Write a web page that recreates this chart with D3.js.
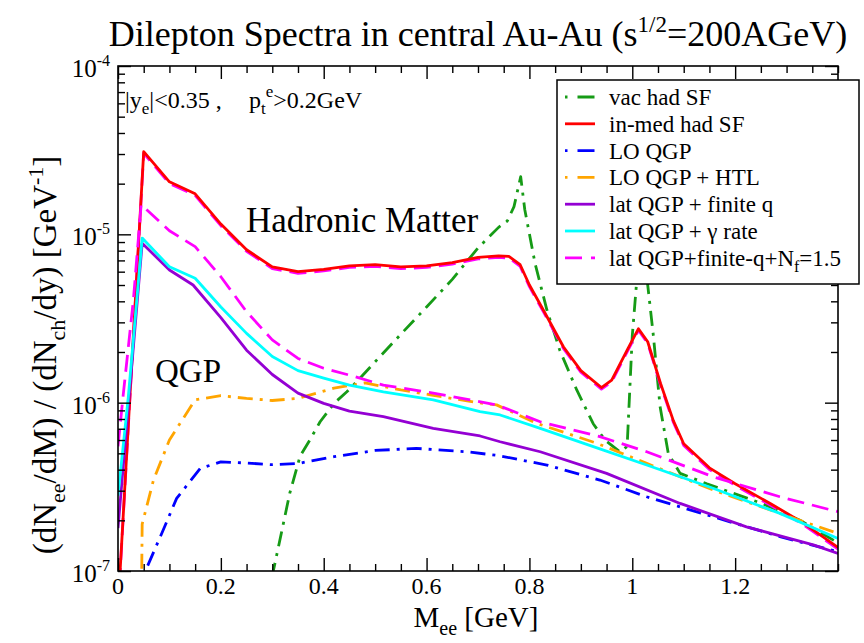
<!DOCTYPE html>
<html>
<head>
<meta charset="utf-8">
<script src="https://cdn.jsdelivr.net/npm/d3@7"></script>
<style>
  body { margin: 0; background: #fff; }
  svg { display: block; font-family: "Liberation Serif", "Times New Roman", serif; }
</style>
</head>
<body>
<svg id="chart" width="864" height="643"></svg>
<script>
// ---------------- data: dilepton invariant-mass spectra ----------------
// vacuum hadronic spectral functions
const massVac = [0.295, 0.302, 0.318, 0.334, 0.354, 0.373, 0.393, 0.42, 0.445, 0.467, 0.5, 0.55, 0.6, 0.65, 0.7, 0.74, 0.757, 0.77, 0.783,
  0.791, 0.811, 0.834, 0.859, 0.892, 0.924, 0.947, 0.976, 0.99, 1.0, 1.008, 1.019, 1.03, 1.041, 1.054, 1.07, 1.093, 1.145, 1.196, 1.255, 1.326, 1.4];
const vacHadSF = [8e-8, 1e-7, 1.7e-7, 2.9e-7, 4.8e-7, 6.0e-7, 7.7e-7, 9.9e-7, 1.16e-6, 1.36e-6, 1.75e-6, 2.55e-6, 3.7e-6, 5.4e-6, 8.3e-6, 1.1e-5, 1.2e-5, 1.46e-5, 2.2e-5,
  1.4e-5, 6.7e-6, 3.55e-6, 2.05e-6, 1.19e-6, 7.5e-7, 6.0e-7, 5.1e-7, 5.5e-7, 2.5e-6, 5e-6, 2.0e-5, 5e-6, 2.5e-6, 9.5e-7, 5.0e-7, 3.8e-7, 3.3e-7, 2.9e-7, 2.5e-7, 2.0e-7, 1.47e-7];

// in-medium hadronic spectral functions
const massMed = [0, 0.05, 0.1, 0.15, 0.2, 0.25, 0.3, 0.35, 0.4, 0.45, 0.5, 0.55, 0.6, 0.65, 0.7, 0.74, 0.76, 0.782, 0.8, 0.827, 0.866,
  0.9, 0.94, 0.96, 0.99, 1.012, 1.03, 1.055, 1.08, 1.1, 1.15, 1.2, 1.27, 1.33, 1.4];
const medHadSF = [6e-8, 3.1e-5, 2.05e-5, 1.74e-5, 1.15e-5, 8.1e-6, 6.4e-6, 6.0e-6, 6.2e-6, 6.5e-6, 6.6e-6, 6.4e-6, 6.5e-6, 6.8e-6, 7.3e-6, 7.45e-6, 7.4e-6, 6.6e-6, 5.0e-6, 3.55e-6, 2.15e-6,
  1.55e-6, 1.23e-6, 1.36e-6, 2.05e-6, 2.75e-6, 2.3e-6, 1.3e-6, 7.8e-7, 5.7e-7, 4.1e-7, 3.3e-7, 2.5e-7, 1.95e-7, 1.38e-7];

// leading-order QGP rate
const massLO = [0.05, 0.085, 0.114, 0.16, 0.2, 0.25, 0.3, 0.35, 0.42, 0.5, 0.58, 0.68, 0.74, 0.834, 0.937, 1.028, 1.157, 1.287, 1.4];
const loQGP = [9.5e-8, 1.67e-7, 2.7e-7, 4.07e-7, 4.45e-7, 4.38e-7, 4.28e-7, 4.35e-7, 4.78e-7, 5.2e-7, 5.35e-7, 5.1e-7, 4.85e-7, 4.26e-7, 3.47e-7, 2.76e-7, 2.1e-7, 1.6e-7, 1.3e-7];

// leading-order QGP with HTL resummation
const massHTL = [0.046, 0.047, 0.069, 0.1, 0.15, 0.2, 0.25, 0.3, 0.35, 0.42, 0.48, 0.55, 0.61, 0.7, 0.736, 0.814, 0.931, 1.028, 1.157, 1.287, 1.4];
const loQGPHTL = [9e-8, 1.9e-7, 3.47e-7, 6.0e-7, 1.04e-6, 1.1e-6, 1.06e-6, 1.03e-6, 1.06e-6, 1.22e-6, 1.31e-6, 1.19e-6, 1.11e-6, 1.0e-6, 9.7e-7, 7.54e-7, 5.74e-7, 4.36e-7, 3.03e-7, 2.2e-7, 1.67e-7];

// lattice QGP at finite momentum
const massLatQ = [0, 0.047, 0.1, 0.146, 0.2, 0.25, 0.3, 0.35, 0.4, 0.45, 0.516, 0.613, 0.704, 0.743, 0.821, 0.95, 1.093, 1.222, 1.352, 1.4];
const latQGPq = [1.8e-7, 8.85e-6, 6.14e-6, 5.0e-6, 3.2e-6, 2.05e-6, 1.47e-6, 1.14e-6, 9.9e-7, 8.9e-7, 8.26e-7, 7.04e-7, 6.34e-7, 5.86e-7, 5.11e-7, 3.8e-7, 2.52e-7, 1.83e-7, 1.43e-7, 1.27e-7];

// lattice QGP constrained by the photon rate
const massLatG = [0, 0.02, 0.047, 0.1, 0.15, 0.2, 0.25, 0.3, 0.35, 0.4, 0.45, 0.516, 0.613, 0.704, 0.743, 0.821, 0.944, 1.028, 1.157, 1.287, 1.4];
const latQGPgamma = [2.8e-7, 1.08e-6, 9.5e-6, 6.42e-6, 5.48e-6, 3.7e-6, 2.58e-6, 1.88e-6, 1.55e-6, 1.4e-6, 1.27e-6, 1.16e-6, 1.04e-6, 8.84e-7, 8.45e-7, 7.04e-7, 5.23e-7, 4.26e-7, 3.1e-7, 2.2e-7, 1.56e-7];

// lattice QGP, finite momentum, N_f = 1.5
const massLatNf = [0, 0.01, 0.03, 0.045, 0.1, 0.15, 0.2, 0.25, 0.3, 0.35, 0.4, 0.46, 0.516, 0.613, 0.736, 0.821, 0.937, 1.028, 1.157, 1.287, 1.4];
const latQGPNf = [5.5e-7, 1.1e-6, 4.1e-6, 1.5e-5, 1.05e-5, 8.45e-6, 5.6e-6, 3.47e-6, 2.36e-6, 1.83e-6, 1.6e-6, 1.43e-6, 1.27e-6, 1.14e-6, 9.7e-7, 7.7e-7, 6.28e-7, 5.11e-7, 3.63e-7, 2.76e-7, 2.25e-7];

// axis ticks
const xMajorTicks = [0, 0.2, 0.4, 0.6, 0.8, 1.0, 1.2];
const xTickLabels = ["0", "0.2", "0.4", "0.6", "0.8", "1", "1.2"];
const yMajorTicks = [1e-7, 1e-6, 1e-5, 1e-4];
const yTickExponents = ["-7", "-6", "-5", "-4"];

const legendLabels = ["vac had SF", "in-med had SF", "LO QGP", "LO QGP + HTL",
  "lat QGP + finite q", "lat QGP + \u03b3 rate", "lat QGP+finite-q+N_f=1.5"];

// ---------------- layout ----------------
const svg = d3.select("#chart");
const W = 864, H = 643;
const plot = { left: 118, right: 838, top: 66, bottom: 571 };

svg.append("rect").attr("width", W).attr("height", H).attr("fill", "#fff");

const x = d3.scaleLinear().domain([0, 1.4]).range([plot.left, plot.right]);
const y = d3.scaleLog().domain([1e-7, 1e-4]).range([plot.bottom, plot.top]);

svg.append("defs").append("clipPath").attr("id", "plotClip")
  .append("rect")
  .attr("x", plot.left).attr("y", plot.top)
  .attr("width", plot.right - plot.left).attr("height", plot.bottom - plot.top);

// ---------------- curves ----------------
const GREEN = "#169b16", RED = "#ff0000", BLUE = "#0000ff", ORANGE = "#ffa500",
      VIOLET = "#9400d3", CYAN = "#00ffff", MAGENTA = "#ff00ff";
const DASHDOT = "3,7,15,7";
const DASHED = "17,8";

const zip = (ms, vs) => ms.map((m, i) => [m, vs[i]]);
const line = d3.line().x(d => x(d[0])).y(d => y(d[1]));

const series = [
  { key: "vac", data: zip(massVac, vacHadSF), color: GREEN, dash: DASHDOT },
  { key: "medNf", data: zip(massMed, medHadSF), color: MAGENTA, dash: DASHED, shift: 1.6 },
  { key: "med", data: zip(massMed, medHadSF), color: RED, dash: null },
  { key: "lo", data: zip(massLO, loQGP), color: BLUE, dash: DASHDOT },
  { key: "htl", data: zip(massHTL, loQGPHTL), color: ORANGE, dash: DASHDOT },
  { key: "latq", data: zip(massLatQ, latQGPq), color: VIOLET, dash: null },
  { key: "latg", data: zip(massLatG, latQGPgamma), color: CYAN, dash: null },
  { key: "latnf", data: zip(massLatNf, latQGPNf), color: MAGENTA, dash: DASHED }
];

const curves = svg.append("g").attr("clip-path", "url(#plotClip)");
series.forEach(s => {
  curves.append("path")
    .datum(s.data)
    .attr("d", line)
    .attr("fill", "none")
    .attr("stroke", s.color)
    .attr("stroke-width", 2.8)
    .attr("stroke-linejoin", "round")
    .attr("stroke-dasharray", s.dash)
    .attr("transform", s.shift ? `translate(0,${s.shift})` : null);
});

// ---------------- axes (inward ticks on all four sides) ----------------
const xMinorTicks = d3.range(0, 1.4001, 0.05).map(v => +v.toFixed(2)).filter(v => !xMajorTicks.includes(v));
const yMinorTicks = [];
[1e-7, 1e-6, 1e-5].forEach(dec => { for (let k = 2; k <= 9; k++) yMinorTicks.push(dec * k); });

const MAJ = 13, MIN = 7;
function drawAxis(axisFn, scale, ticks, size, transform) {
  const g = svg.append("g").attr("transform", transform)
    .call(axisFn(scale).tickValues(ticks).tickSize(size).tickSizeOuter(0).tickFormat(""));
  g.select(".domain").remove();
  g.selectAll(".tick line").attr("stroke", "#000").attr("stroke-width", 1.4);
  return g;
}
drawAxis(d3.axisBottom, x, xMajorTicks, -MAJ, `translate(0,${plot.bottom})`);
drawAxis(d3.axisBottom, x, xMinorTicks, -MIN, `translate(0,${plot.bottom})`);
drawAxis(d3.axisTop, x, xMajorTicks, -MAJ, `translate(0,${plot.top})`);
drawAxis(d3.axisTop, x, xMinorTicks, -MIN, `translate(0,${plot.top})`);
drawAxis(d3.axisLeft, y, yMajorTicks, -MAJ, `translate(${plot.left},0)`);
drawAxis(d3.axisLeft, y, yMinorTicks, -MIN, `translate(${plot.left},0)`);
drawAxis(d3.axisRight, y, yMajorTicks, -MAJ, `translate(${plot.right},0)`);
drawAxis(d3.axisRight, y, yMinorTicks, -MIN, `translate(${plot.right},0)`);

svg.append("rect")
  .attr("x", plot.left).attr("y", plot.top)
  .attr("width", plot.right - plot.left).attr("height", plot.bottom - plot.top)
  .attr("fill", "none").attr("stroke", "#000").attr("stroke-width", 1.6);

// x tick labels
svg.append("g").selectAll("text").data(xMajorTicks).join("text")
  .attr("x", d => x(d)).attr("y", plot.bottom + 23)
  .attr("text-anchor", "middle").attr("font-size", 24)
  .text((d, i) => xTickLabels[i]);

// y tick labels: 10^n
const yLab = svg.append("g").selectAll("text").data(yMajorTicks).join("text")
  .attr("x", 110).attr("y", d => y(d) + 11)
  .attr("text-anchor", "end").attr("font-size", 25);
yLab.append("tspan").text("10");
yLab.append("tspan").attr("font-size", 16).attr("dy", -11).text((d, i) => yTickExponents[i]);

// ---------------- titles ----------------
const title = svg.append("text").attr("x", 478).attr("y", 46)
  .attr("text-anchor", "middle").attr("font-size", 36);
title.append("tspan").text("Dilepton Spectra in central Au-Au (s");
title.append("tspan").attr("font-size", 23).attr("dy", -14).text("1/2");
title.append("tspan").attr("dy", 14).text("=200AGeV)");

const xTitle = svg.append("text").attr("x", 476).attr("y", 627)
  .attr("text-anchor", "middle").attr("font-size", 29);
xTitle.append("tspan").text("M");
xTitle.append("tspan").attr("font-size", 20).attr("dy", 8).text("ee");
xTitle.append("tspan").attr("dy", -8).text(" [GeV]");

const yTitle = svg.append("text")
  .attr("transform", "translate(56,355) rotate(-90)")
  .attr("text-anchor", "middle").attr("font-size", 33);
yTitle.append("tspan").text("(dN");
yTitle.append("tspan").attr("font-size", 22).attr("dy", 9).text("ee");
yTitle.append("tspan").attr("dy", -9).text("/dM) / (dN");
yTitle.append("tspan").attr("font-size", 22).attr("dy", 9).text("ch");
yTitle.append("tspan").attr("dy", -9).text("/dy)  [GeV");
yTitle.append("tspan").attr("font-size", 22).attr("dy", -13).text("-1");
yTitle.append("tspan").attr("dy", 13).text("]");

// ---------------- annotations ----------------
const cut1 = svg.append("text").attr("x", 125).attr("y", 108).attr("font-size", 24);
cut1.append("tspan").text("|y");
cut1.append("tspan").attr("font-size", 17).attr("dy", 6).text("e");
cut1.append("tspan").attr("dy", -6).text("|<0.35 ,");
const cut2 = svg.append("text").attr("x", 249).attr("y", 108).attr("font-size", 24);
cut2.append("tspan").text("p");
cut2.append("tspan").attr("font-size", 17).attr("dy", 6).text("t");
cut2.append("tspan").attr("font-size", 17).attr("dy", -17).text("e");
cut2.append("tspan").attr("dy", 11).text(">0.2GeV");

svg.append("text").attr("x", 246).attr("y", 232).attr("font-size", 35).text("Hadronic Matter");
svg.append("text").attr("x", 155).attr("y", 382).attr("font-size", 33).text("QGP");

// ---------------- legend ----------------
const legend = svg.append("g");
legend.append("rect")
  .attr("x", 557).attr("y", 80).attr("width", 302).attr("height", 204)
  .attr("fill", "#fff").attr("stroke", "#000").attr("stroke-width", 1.5);

const legendStyles = [
  { color: GREEN, dash: "2.5,10,17,6" },
  { color: RED, dash: null },
  { color: BLUE, dash: "2.5,10,17,6" },
  { color: ORANGE, dash: "2.5,10,17,6" },
  { color: VIOLET, dash: null },
  { color: CYAN, dash: null },
  { color: MAGENTA, dash: "17,9" }
];
legendLabels.forEach((lab, i) => {
  const cy = 97 + i * 26.8;
  legend.append("line")
    .attr("x1", 565).attr("x2", 595).attr("y1", cy).attr("y2", cy)
    .attr("stroke", legendStyles[i].color).attr("stroke-width", 2.8)
    .attr("stroke-dasharray", legendStyles[i].dash);
  const t = legend.append("text").attr("x", 609).attr("y", cy + 8).attr("font-size", 23);
  if (lab.includes("N_f")) {
    const [a, b] = lab.split("N_f");
    t.append("tspan").text(a + "N");
    t.append("tspan").attr("font-size", 16).attr("dy", 6).text("f");
    t.append("tspan").attr("dy", -6).text(b);
  } else {
    t.text(lab);
  }
});
</script>
</body>
</html>
